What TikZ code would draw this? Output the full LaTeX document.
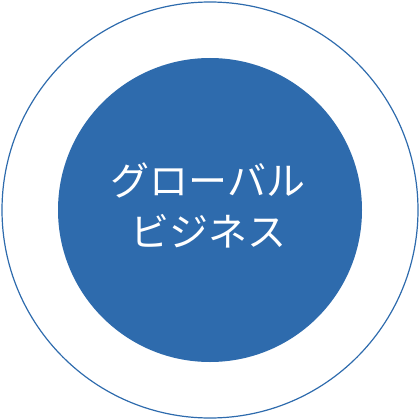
\documentclass[tikz,border=0pt]{standalone}
\usepackage{fontspec}
\newfontfamily\cjk{Noto Sans CJK JP}
\definecolor{cblue}{HTML}{2E6BAD}
\begin{document}
\begin{tikzpicture}[x=1pt,y=-1pt]
\useasboundingbox (0,0) rectangle (420,420);
\tikzset{outerring/.style={draw=cblue,line width=1.2pt},
innerdisc/.style={fill=cblue},
label/.style={text=white,font=\cjk\fontsize{39}{51}\selectfont,align=center}}
\node[circle,outerring,minimum size=416pt,inner sep=0pt] (outer) at (210,210) {};
\node[circle,innerdisc,minimum size=304pt,inner sep=0pt] (inner) at (210,210) {};
\node[label] (txt) at (208,205) {グローバル\\ビジネス};
\end{tikzpicture}
\end{document}
